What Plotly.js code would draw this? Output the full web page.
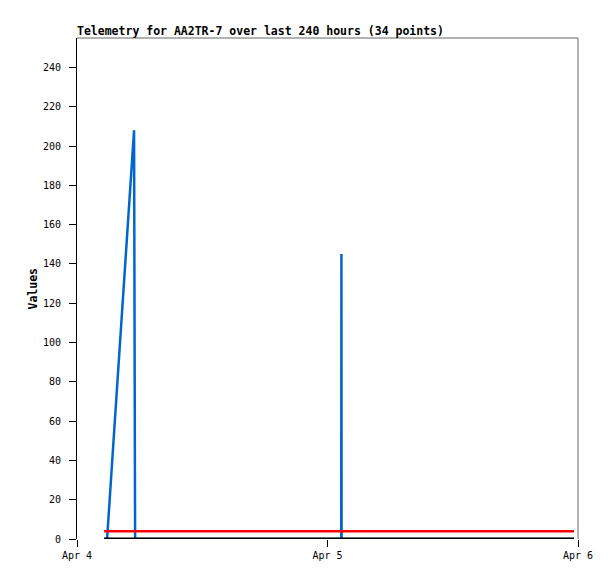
<!DOCTYPE html>
<html>
<head>
<meta charset="utf-8">
<script src="https://cdn.plot.ly/plotly-3.0.1.min.js"></script>
<style>html,body{margin:0;padding:0;background:#fff;}#chart{width:615px;height:579px;}</style>
</head>
<body>
<div id="chart"></div>
<script>
// Timestamps of the 34 samples
const times = [
  '2024-04-04 02:36', '2024-04-04 02:53', '2024-04-04 03:30', '2024-04-04 04:00',
  '2024-04-04 04:30', '2024-04-04 05:00', '2024-04-04 05:28', '2024-04-04 05:34',
  '2024-04-04 07:00', '2024-04-04 09:00', '2024-04-04 11:00', '2024-04-04 13:00',
  '2024-04-04 15:00', '2024-04-04 17:00', '2024-04-04 19:00', '2024-04-04 21:00',
  '2024-04-04 23:00', '2024-04-05 01:19', '2024-04-05 01:20', '2024-04-05 01:21',
  '2024-04-05 03:00', '2024-04-05 05:00', '2024-04-05 07:00', '2024-04-05 09:00',
  '2024-04-05 11:00', '2024-04-05 12:30', '2024-04-05 14:00', '2024-04-05 15:30',
  '2024-04-05 17:00', '2024-04-05 18:30', '2024-04-05 20:00', '2024-04-05 21:30',
  '2024-04-05 22:45', '2024-04-05 23:37'
];
// Blue series
const blueValues = [
  0, 0, 50, 90, 130, 170, 208, 0,
  0, 0, 0, 0, 0, 0, 0, 0, 0,
  0, 145, 0,
  0, 0, 0, 0, 0, 0, 0, 0, 0, 0, 0, 0, 0, 0
];
// Red series
const redValues = [
  4, 4, 4, 4, 4, 4, 4, 4, 4, 4, 4, 4, 4, 4, 4, 4, 4,
  4, 4, 4, 4, 4, 4, 4, 4, 4, 4, 4, 4, 4, 4, 4, 4, 4
];
// Black series
const blackValues = [
  0, 0, 0, 0, 0, 0, 0, 0, 0, 0, 0, 0, 0, 0, 0, 0, 0,
  0, 0, 0, 0, 0, 0, 0, 0, 0, 0, 0, 0, 0, 0, 0, 0, 0
];

const yTicks = [0, 20, 40, 60, 80, 100, 120, 140, 160, 180, 200, 220, 240];
const xTicks = ['2024-04-04', '2024-04-05', '2024-04-06'];
const xTickText = ['Apr 4', 'Apr 5', 'Apr 6'];

const mono = 'DejaVu Sans Mono, Liberation Mono, monospace';

const traces = [
  {x: times, y: blueValues, type: 'scatter', mode: 'lines',
   line: {color: '#0066cc', width: 2.5}, hoverinfo: 'skip'},
  {x: times, y: redValues, type: 'scatter', mode: 'lines',
   line: {color: '#ff0000', width: 2.5}, hoverinfo: 'skip'},
  {x: times, y: blackValues, type: 'scatter', mode: 'lines',
   line: {color: '#000000', width: 3}, hoverinfo: 'skip'}
];

const layout = {
  width: 615, height: 579,
  margin: {l: 77, r: 37, t: 38, b: 40, pad: 0},
  paper_bgcolor: '#ffffff', plot_bgcolor: '#ffffff',
  showlegend: false,
  font: {family: mono, size: 10, color: '#000'},
  title: {text: '<b>Telemetry for AA2TR-7 over last 240 hours (34 points)</b>',
          font: {family: mono, size: 11.5, color: '#000'},
          x: 77/615, xanchor: 'left', xref: 'container',
          y: 1 - 30.5/579, yanchor: 'middle', yref: 'container'},
  xaxis: {
    type: 'date', range: ['2024-04-04', '2024-04-06'],
    tickvals: xTicks, ticktext: xTickText,
    showgrid: false, zeroline: false, showline: false,
    ticks: 'outside', ticklen: 7, tickcolor: '#000', tickwidth: 1,
    tickfont: {family: mono, size: 10, color: '#000'},
    fixedrange: true
  },
  yaxis: {
    range: [0, 255], tickvals: yTicks,
    showgrid: false, zeroline: false,
    showline: true, linecolor: '#000', linewidth: 1,
    ticks: 'outside', ticklen: 7, tickcolor: '#000', tickwidth: 1,
    ticklabelstandoff: 6,
    tickfont: {family: mono, size: 10, color: '#000'},
    fixedrange: true
  },
  shapes: [
    {type: 'line', xref: 'paper', yref: 'paper', x0: 0, x1: 1, y0: 1, y1: 1,
     line: {color: '#666', width: 1}},
    {type: 'line', xref: 'paper', yref: 'paper', x0: 1, x1: 1, y0: 1, y1: 0,
     line: {color: '#666', width: 1}}
  ],
  annotations: [
    {text: '<b>Values</b>', xref: 'paper', yref: 'paper', x: -45/501, y: 0.5,
     xanchor: 'center', yanchor: 'middle', textangle: -90, showarrow: false,
     font: {family: mono, size: 11.5, color: '#000'}}
  ]
};

Plotly.newPlot('chart', traces, layout, {displayModeBar: false, staticPlot: true});
</script>
</body>
</html>
